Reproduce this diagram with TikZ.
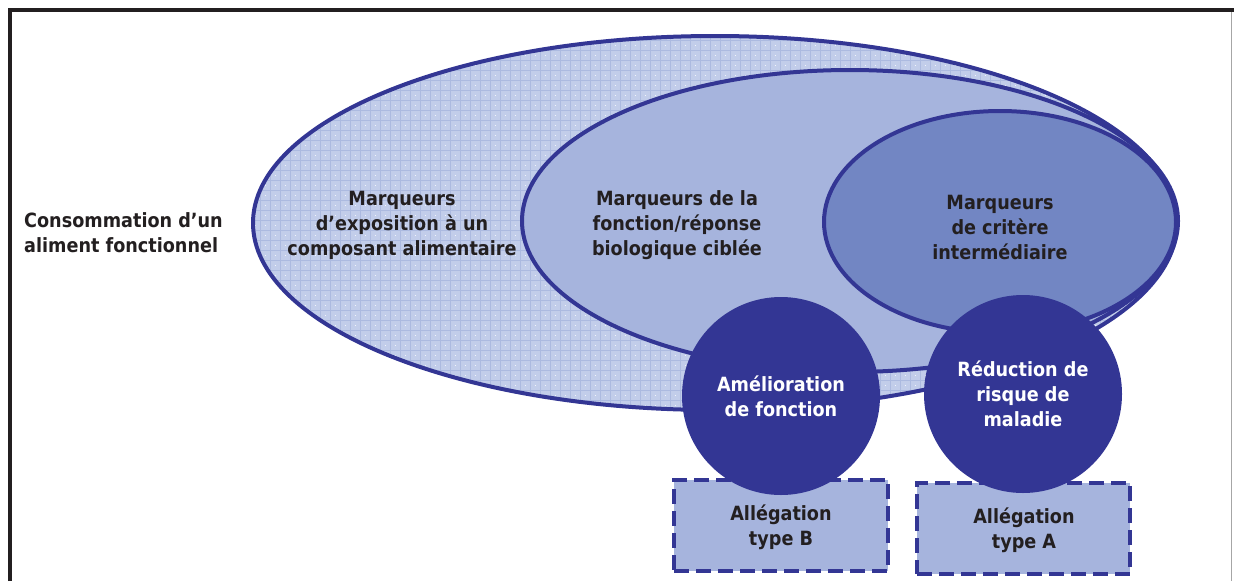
\documentclass[tikz,border=0pt]{standalone}
\usepackage{fontspec}
\setmainfont{DejaVu Sans Condensed}
\definecolor{dkblue}{RGB}{51,54,148}
\definecolor{midfill}{RGB}{166,180,221}
\definecolor{innerfill}{RGB}{114,134,195}
\definecolor{outerfill}{RGB}{194,205,234}
\definecolor{gridc}{RGB}{172,186,224}
\definecolor{txt}{RGB}{35,31,32}
\tikzset{
  lbl/.style={align=center, text=txt, font=\bfseries\fontsize{19.6}{25}\selectfont, inner sep=0pt},
  ellstroke/.style={draw=dkblue, line width=4pt},
  claim/.style={draw=dkblue, fill=midfill, line width=3.5pt, dash pattern=on 15pt off 7pt, minimum height=91pt, inner sep=0pt},
  bubble/.style={circle, fill=dkblue, minimum size=198pt, inner sep=0pt, align=center, text=white, font=\bfseries\fontsize{19.6}{25}\selectfont},
}
\begin{document}
\begin{tikzpicture}[x=1pt,y=-1pt]
\useasboundingbox (0,0) rectangle (1234,581);
\fill[white] (0,0) rectangle (1234,581);
% frame
\draw[txt, line width=4pt] (10,581) -- (10,10) -- (1234,10);
\draw[gray!70, line width=1pt] (1231.5,12) -- (1231.5,581);
% outer ellipse with grid
\begin{scope}
  \clip (715,223) ellipse [x radius=462, y radius=187];
  \fill[outerfill] (240,30) rectangle (1190,420);
  \draw[gridc, line width=0.8pt, step=10pt] (240,30) grid (1190,420);
  \foreach \k in {0,...,39} {
    \draw[white, opacity=0.8, line width=1pt, dash pattern=on 1pt off 9pt, dash phase=-4.5pt]
      (240,{35+10*\k}) -- (1190,{35+10*\k});
  }
\end{scope}
\draw[ellstroke] (715,223) ellipse [x radius=462, y radius=187];
% middle ellipse
\draw[ellstroke, fill=midfill] (850,221) ellipse [x radius=328, y radius=151];
% inner ellipse
\draw[ellstroke, fill=innerfill] (1000,222) ellipse [x radius=176, y radius=111];
% labels
\node[lbl, align=left, anchor=west] (conso) at (24,233) {Consommation d’un\\aliment fonctionnel};
\node[lbl] (expo) at (402,225) {Marqueurs\\d’exposition à un\\composant alimentaire};
\node[lbl] (fonc) at (677,225) {Marqueurs de la\\fonction/réponse\\biologique ciblée};
\node[lbl] (crit) at (1000,227) {Marqueurs\\de critère\\intermédiaire};
% claim boxes
\node[claim, minimum width=214pt] (typeB) at (781,525.5) {};
\node[claim, minimum width=213pt] (typeA) at (1023.5,528.5) {};
% circles
\node[bubble] (amel) at (781,396) {Amélioration\\de fonction};
\node[bubble] (redu) at (1023,394) {Réduction de\\risque de\\maladie};
% box labels
\node[lbl] (labB) at (781,527) {Allégation\\type B};
\node[lbl] (labA) at (1024,530) {Allégation\\type A};
\end{tikzpicture}
\end{document}
